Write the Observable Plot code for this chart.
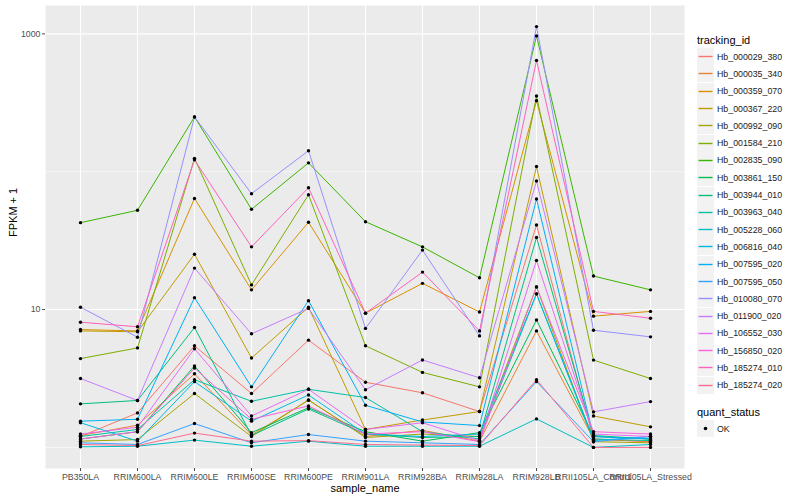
<!DOCTYPE html>
<html><head><meta charset="utf-8">
<script src="https://cdn.jsdelivr.net/npm/d3@7"></script>
<script src="https://cdn.jsdelivr.net/npm/@observablehq/plot@0.6"></script>
<style>
body{margin:0;background:#fff;font-family:"Liberation Sans",Arial,Helvetica,sans-serif;}
#wrap{position:relative;width:800px;height:500px;overflow:hidden;}
#legend{position:absolute;left:697px;top:32px;font-size:8.8px;color:#1a1a1a;}
.ltitle{font-size:11px;height:16px;line-height:16px;color:#000;}
.row{display:flex;align-items:center;height:17.3px;}
.key{width:17px;height:17px;margin-right:3px;display:block;}
</style></head>
<body><div id="wrap"><div id="chart"></div><div id="legend"></div></div>
<script>
const samples = ["PB350LA","RRIM600LA","RRIM600LE","RRIM600SE","RRIM600PE","RRIM901LA","RRIM928BA","RRIM928LA","RRIM928LB","RRII105LA_Control","RRII105LA_Stressed"];
const trackingIds = ["Hb_000029_380","Hb_000035_340","Hb_000359_070","Hb_000367_220","Hb_000992_090","Hb_001584_210","Hb_002835_090","Hb_003861_150","Hb_003944_010","Hb_003963_040","Hb_005228_060","Hb_006816_040","Hb_007595_020","Hb_007595_050","Hb_010080_070","Hb_011900_020","Hb_106552_030","Hb_156850_020","Hb_185274_010","Hb_185274_020"];
const palette = ["#F8766D","#EA8331","#D89000","#C09B00","#A3A500","#7CAE00","#39B600","#00BB4E","#00BF7D","#00C1A3","#00BFC4","#00BAE0","#00B0F6","#35A2FF","#9590FF","#C77CFF","#E76BF3","#FA62DB","#FF62BC","#FF6C91"];

// FPKM + 1 per sample (same order as samples)
const Hb_000029_380 = [1.2, 1.78, 5.46, 2.46, 6.0, 2.97, 2.49, 1.82, 41.1, 1.15, 1.1];
const Hb_000035_340 = [1.22, 1.45, 3.42, 1.23, 2.2, 1.2, 1.33, 1.11, 7.0, 1.15, 1.1];
const Hb_000359_070 = [7.16, 7.0, 64, 13.9, 43, 9.42, 15.5, 9.6, 327, 8.96, 9.7];
const Hb_000367_220 = [7.0, 6.9, 25.2, 4.45, 10.4, 1.35, 1.58, 1.82, 109, 1.69, 1.41];
const Hb_000992_090 = [1.11, 1.14, 2.46, 1.2, 2.21, 1.18, 1.25, 1.2, 14.6, 1.1, 1.08];
const Hb_001584_210 = [4.41, 5.27, 125, 15.1, 68, 5.46, 3.5, 2.75, 354, 4.3, 3.16];
const Hb_002835_090 = [42.7, 52.5, 250, 53.4, 116, 43.4, 28.5, 17, 967, 17.5, 13.9];
const Hb_003861_150 = [1.15, 1.3, 3.9, 1.28, 1.94, 1.3, 1.11, 1.28, 8.4, 1.2, 1.15];
const Hb_003944_010 = [2.07, 2.19, 7.41, 1.22, 1.9, 1.25, 1.18, 1.2, 33.3, 1.22, 1.15];
const Hb_003963_040 = [1.2, 1.35, 3.1, 2.16, 2.64, 2.3, 1.3, 1.15, 13.0, 1.15, 1.12];
const Hb_005228_060 = [1.01, 1.02, 1.13, 1.02, 1.11, 1.02, 1.02, 1.02, 1.61, 1.0, 1.05];
const Hb_006816_040 = [1.51, 1.11, 3.0, 1.55, 2.4, 1.25, 1.2, 1.25, 13.0, 1.12, 1.2];
const Hb_007595_020 = [1.55, 1.6, 12.2, 2.75, 11.6, 2.02, 1.53, 1.44, 63.4, 1.2, 1.15];
const Hb_007595_050 = [1.08, 1.05, 1.49, 1.08, 1.24, 1.11, 1.08, 1.05, 3.0, 1.1, 1.2];
const Hb_010080_070 = [10.4, 6.3, 250, 69.3, 142, 7.3, 27, 6.44, 1130, 7.08, 6.34];
const Hb_011900_020 = [3.16, 2.19, 20, 6.67, 10.2, 2.62, 4.31, 3.2, 85.7, 1.81, 2.15];
const Hb_106552_030 = [1.25, 1.4, 5.2, 1.69, 2.64, 1.35, 1.51, 1.12, 22.7, 1.25, 1.2];
const Hb_156850_020 = [1.15, 1.3, 3.76, 1.6, 2.0, 1.25, 1.3, 1.1, 14.6, 1.3, 1.25];
const Hb_185274_010 = [8.1, 7.5, 122, 28.5, 76.5, 9.42, 18.7, 7.0, 641, 9.7, 8.65];
const Hb_185274_020 = [1.05, 1.03, 1.27, 1.11, 1.12, 1.05, 1.04, 1.03, 3.1, 1.0, 1.0];

const seriesValues = [Hb_000029_380,Hb_000035_340,Hb_000359_070,Hb_000367_220,Hb_000992_090,Hb_001584_210,Hb_002835_090,Hb_003861_150,Hb_003944_010,Hb_003963_040,Hb_005228_060,Hb_006816_040,Hb_007595_020,Hb_007595_050,Hb_010080_070,Hb_011900_020,Hb_106552_030,Hb_156850_020,Hb_185274_010,Hb_185274_020];
const quantStatus = ["OK"];

const data = [];
trackingIds.forEach((id, i) => samples.forEach((s, j) => data.push({id, sample: s, value: seriesValues[i][j], status: quantStatus[0]})));

const chart = Plot.plot({
  width: 800, height: 500,
  marginLeft: 45, marginRight: 116, marginTop: 5, marginBottom: 32,
  style: {fontFamily: "Liberation Sans, Arial, Helvetica, sans-serif", background: "transparent"},
  x: {type: "point", domain: samples, padding: 0.6, label: null},
  y: {type: "log", domain: [0.703, 1607], label: null},
  color: {domain: trackingIds, range: palette},
  marks: [
    Plot.frame({fill: "#EBEBEB", stroke: "none"}),
    Plot.ruleY([1, 100], {stroke: "white", strokeWidth: 0.55}),
    Plot.ruleY([10, 1000], {stroke: "white", strokeWidth: 1.1}),
    Plot.ruleX(samples, {stroke: "white", strokeWidth: 1.1}),
    Plot.axisY({ticks: [10, 1000], tickFormat: d => String(d), tickSize: 3, tickPadding: 2, fontSize: 8.8, color: "#4d4d4d", label: null}),
    Plot.axisX({tickSize: 3, tickPadding: 2, fontSize: 8.8, color: "#4d4d4d", label: null}),
    Plot.line(data, {x: "sample", y: "value", z: "id", stroke: "id", strokeWidth: 1}),
    Plot.dot(data, {x: "sample", y: "value", fill: "black", r: 1.7}),
    Plot.text(["sample_name"], {frameAnchor: "bottom", dy: 23, fontSize: 11, fill: "black"}),
    Plot.text(["FPKM + 1"], {frameAnchor: "left", dx: -32, rotate: -90, fontSize: 11, fill: "black"})
  ]
});
document.getElementById("chart").appendChild(chart);

// legend
const lg = document.getElementById("legend");
let html = '<div class="ltitle">tracking_id</div>';
trackingIds.forEach((id, i) => {
  html += `<div class="row"><svg class="key" width="17" height="17"><rect width="17" height="17" fill="#F2F2F2"/><line x1="1.5" x2="15.5" y1="8.5" y2="8.5" stroke="${palette[i]}" stroke-width="1.4"/></svg><span>${id}</span></div>`;
});
html += '<div class="ltitle" style="margin-top:10px">quant_status</div>';
quantStatus.forEach(q => {
  html += `<div class="row"><svg class="key" width="17" height="17"><rect width="17" height="17" fill="#F2F2F2"/><circle cx="8.5" cy="8.5" r="1.8" fill="#000"/></svg><span>${q}</span></div>`;
});
lg.innerHTML = html;
</script>
</body></html>
